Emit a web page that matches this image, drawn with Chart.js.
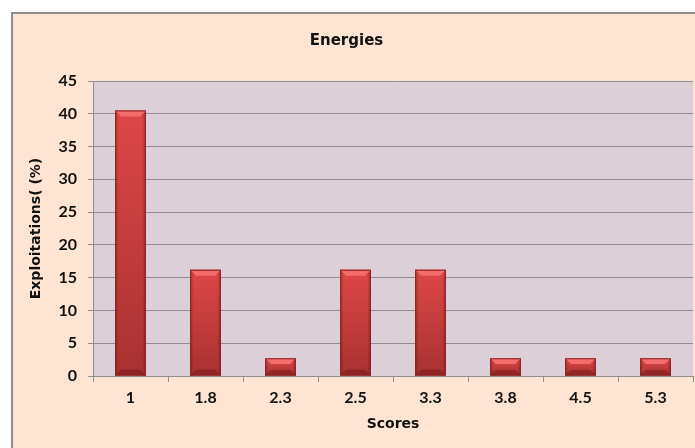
<!DOCTYPE html>
<html>
<head>
<meta charset="utf-8">
<script src="https://cdn.jsdelivr.net/npm/chart.js@4/dist/chart.umd.min.js"></script>
<style>
  html, body { margin: 0; padding: 0; background: #ffffff; }
  #wrap { width: 695px; height: 448px; position: relative; }
</style>
</head>
<body>
<div id="wrap"><canvas id="myBarChart"></canvas></div>
<script>
// chart data
const scores = ['1', '1.8', '2.3', '2.5', '3.3', '3.8', '4.5', '5.3'];
const exploitations = [40.5, 16.2, 2.7, 16.2, 16.2, 2.7, 2.7, 2.7];
const yTicks = [0, 5, 10, 15, 20, 25, 30, 35, 40, 45];

const tickFont = 'Lato, "DejaVu Sans", sans-serif';
const titleFont = '"DejaVu Sans", sans-serif';

// peach frame and mauve plot area behind everything
const backgroundPlugin = {
  id: 'backgrounds',
  beforeDraw(chart) {
    const c = chart.ctx;
    const a = chart.chartArea;
    c.save();
    c.fillStyle = '#fde4d3';
    c.fillRect(12, 13, chart.width, chart.height);
    c.strokeStyle = '#8e8e8e';
    c.lineWidth = 2;
    c.beginPath();
    c.moveTo(12, chart.height + 2);
    c.lineTo(12, 13);
    c.lineTo(chart.width + 2, 13);
    c.stroke();
    c.fillStyle = '#dccfd7';
    c.fillRect(a.left, a.top, a.right - a.left, a.bottom - a.top);
    c.restore();
  }
};

// shading on each bar to get the bevelled look
const bevelPlugin = {
  id: 'bevel',
  afterDatasetsDraw(chart) {
    const c = chart.ctx;
    const meta = chart.getDatasetMeta(0);
    c.save();
    meta.data.forEach(function (bar) {
      const l = bar.x - bar.width / 2;
      const r = bar.x + bar.width / 2;
      const t = bar.y;
      const b = bar.base;
      const h = b - t;
      const bv = Math.min(6, h / 3);

      const g = c.createLinearGradient(0, t, 0, b);
      g.addColorStop(0, '#de4747');
      g.addColorStop(1, '#a93131');
      c.fillStyle = g;
      c.fillRect(l, t, r - l, h);

      // side shading
      const sg = c.createLinearGradient(l, 0, r, 0);
      sg.addColorStop(0, 'rgba(90,10,10,0.35)');
      sg.addColorStop(0.12, 'rgba(90,10,10,0)');
      sg.addColorStop(0.88, 'rgba(90,10,10,0)');
      sg.addColorStop(1, 'rgba(90,10,10,0.4)');
      c.fillStyle = sg;
      c.fillRect(l, t, r - l, h);

      // top bevel
      c.fillStyle = '#f46d6d';
      c.beginPath();
      c.moveTo(l, t);
      c.lineTo(r, t);
      c.lineTo(r - bv, t + bv);
      c.lineTo(l + bv, t + bv);
      c.closePath();
      c.fill();

      // bottom bevel
      c.fillStyle = 'rgba(110,20,20,0.45)';
      c.beginPath();
      c.moveTo(l, b);
      c.lineTo(r, b);
      c.lineTo(r - bv, b - bv);
      c.lineTo(l + bv, b - bv);
      c.closePath();
      c.fill();

      c.strokeStyle = '#8a2626';
      c.lineWidth = 1;
      c.strokeRect(l + 0.5, t + 0.5, r - l - 1, h - 1);
    });
    c.restore();
  }
};

document.addEventListener('DOMContentLoaded', function () {
  const ctx = document.getElementById('myBarChart').getContext('2d');
  const myChart = new Chart(ctx, {
    type: 'bar',
    data: {
      labels: scores,
      datasets: [{
        label: 'Exploitations',
        data: exploitations,
        backgroundColor: '#c43a3a',
        borderWidth: 0,
        barPercentage: 0.41,
        categoryPercentage: 1.0
      }]
    },
    options: {
      responsive: true,
      maintainAspectRatio: false,
      animation: false,
      layout: { padding: { left: 0, right: 2, top: 0, bottom: 0 } },
      plugins: {
        legend: { display: false },
        tooltip: { enabled: false },
        title: {
          display: true,
          text: 'Energies',
          color: '#111111',
          font: { family: titleFont, size: 15, weight: 'bold' },
          padding: { top: 32, bottom: 31 }
        }
      },
      scales: {
        x: {
          grid: {
            display: true,
            drawOnChartArea: false,
            offset: true,
            color: '#8e8e8e',
            tickLength: 6
          },
          border: { color: '#8e8e8e', width: 1 },
          ticks: {
            color: '#111111',
            padding: 6,
            font: { family: tickFont, size: 16, weight: 'bold' }
          },
          title: {
            display: true,
            text: 'Scores',
            color: '#111111',
            font: { family: titleFont, size: 14, weight: 'bold' },
            padding: { top: 3, bottom: 15 }
          }
        },
        y: {
          min: 0,
          max: 45,
          afterBuildTicks(scale) {
            scale.ticks = yTicks.map(v => ({ value: v }));
          },
          afterFit(scale) {
            scale.width = 93;
          },
          grid: {
            color: '#8e8e8e',
            tickLength: 5
          },
          border: { color: '#8e8e8e', width: 1 },
          ticks: {
            color: '#111111',
            padding: 11,
            font: { family: tickFont, size: 16, weight: 'bold' }
          },
          title: {
            display: true,
            text: 'Exploitations( (%)',
            color: '#111111',
            font: { family: titleFont, size: 14, weight: 'bold' },
            padding: { top: 28, bottom: 0 }
          }
        }
      }
    },
    plugins: [backgroundPlugin, bevelPlugin]
  });
});
</script>
</body>
</html>
